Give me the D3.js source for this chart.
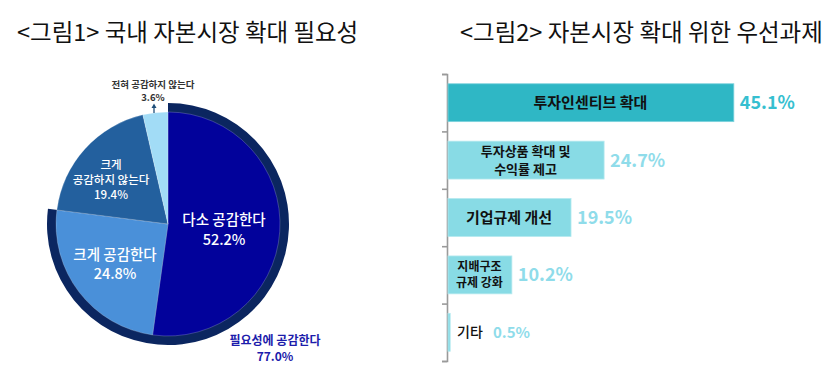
<!DOCTYPE html>
<html><head><meta charset="utf-8">
<script src="https://cdn.jsdelivr.net/npm/d3@7/dist/d3.min.js"></script>
<style>body{margin:0;background:#fff}svg{display:block}text{font-family:"Noto Sans CJK KR","Noto Sans",sans-serif}</style>
</head><body><svg id="c" width="839" height="383"></svg>
<script>
// Figure 1: pie
const pieLabels = ["다소 공감한다", "크게 공감한다", "크게 공감하지 않는다", "전혀 공감하지 않는다"];
const pieValues = [52.2, 24.8, 19.4, 3.6];
const agreeLabel = "필요성에 공감한다";
const agreeValue = 77.0;
// Figure 2: bars
const barCategories = ["투자인센티브 확대", "투자상품 확대 및\n수익률 제고", "기업규제 개선", "지배구조\n규제 강화", "기타"];
const barValues = [45.1, 24.7, 19.5, 10.2, 0.5];
const titles = ["<그림1> 국내 자본시장 확대 필요성", "<그림2> 자본시장 확대 위한 우선과제"];

const svg = d3.select("#c");
svg.append("text").attr("x", 17).attr("y", 41).attr("font-size", 23.5).attr("fill", "#111").text(titles[0]);
svg.append("text").attr("x", 460).attr("y", 41).attr("font-size", 23.5).attr("fill", "#111").text(titles[1]);

// ---- Pie ----
const cx = 168, cy = 224, R = 112, Rring = 121;
const g = svg.append("g").attr("transform", `translate(${cx},${cy})`);
const total = d3.sum(pieValues);
const ringArc = d3.arc().innerRadius(0).outerRadius(Rring).startAngle(0).endAngle(2 * Math.PI * agreeValue / total);
g.append("path").attr("d", ringArc()).attr("fill", "#0b2660");
const pieColors = ["#02029b", "#4a90d9", "#23609e", "#a2dcf6"];
const arcs = d3.pie().sort(null).value(d => d)(pieValues);
const arc = d3.arc().innerRadius(0).outerRadius(R);
g.selectAll("path.s").data(arcs).join("path").attr("class", "s")
  .attr("d", arc).attr("fill", (d, i) => pieColors[i])
  .attr("stroke", "rgba(255,255,255,0.35)").attr("stroke-width", 0.6);

function multi(sel, lines, x, y, lh, size, weight, color, anchor) {
  lines.forEach((l, i) => sel.append("text").attr("x", x).attr("y", y + (Array.isArray(lh) ? d3.sum(lh.slice(0, i)) : i * lh))
    .attr("font-size", size).attr("font-weight", weight).attr("fill", color)
    .attr("text-anchor", anchor || "middle").text(l));
}
const pct = v => v.toFixed(1) + "%";
multi(svg, [pieLabels[0], pct(pieValues[0])], 224, 225, 20, 14.5, 500, "#fff");
multi(svg, [pieLabels[1], pct(pieValues[1])], 115, 260, 19, 14.5, 500, "#fff");
multi(svg, ["크게", "공감하지 않는다", pct(pieValues[2])], 111, 169, [15, 15], 11.5, 500, "#fff");
multi(svg, [pieLabels[3], pct(pieValues[3])], 153, 88, 12.5, 9.5, 700, "#333");
multi(svg, [agreeLabel, agreeValue.toFixed(1) + "%"], 275, 345, 16, 12, 700, "#1c1cab");
// arrow for small slice
svg.append("line").attr("x1", 154).attr("x2", 154).attr("y1", 113).attr("y2", 107)
  .attr("stroke", "#1f4e79").attr("stroke-width", 1.3);
svg.append("path").attr("d", "M151.5,108 L154,103.5 L156.5,108 Z").attr("fill", "#1f4e79");

// ---- Bars ----
const x = d3.scaleLinear().domain([0, 50]).range([447, 765]);
const y = d3.scaleBand().domain(barCategories).range([74, 361]).paddingInner(0.34).paddingOuter(0.17);
const yTicks = d3.scaleLinear().domain([0, barCategories.length]).range([74, 361]);
const axis = svg.append("g").attr("transform", "translate(447,0)")
  .call(d3.axisLeft(yTicks).tickValues(d3.range(barCategories.length + 1)).tickFormat("").tickSize(5).tickSizeOuter(5));
axis.selectAll("path,line").attr("stroke", "#9a9a9a").attr("stroke-width", 1.6);

const barCol = (i) => i === 0 ? "#2fb7c5" : "#88dbe5";
const bars = svg.append("g");
barCategories.forEach((c, i) => {
  const y0 = y(c), bw = y.bandwidth(), x1 = x(barValues[i]);
  bars.append("rect").attr("x", x(0) + 1).attr("y", y0).attr("width", Math.max(0, x1 - x(0) - 1)).attr("height", bw)
    .attr("fill", barCol(i)).attr("stroke", i === 0 ? "#7fd3dd" : "#b4e9ef").attr("stroke-width", 0.8);
  const isLast = i === barCategories.length - 1;
  svg.append("text").attr("x", isLast ? 493 : x1 + 6).attr("y", y0 + bw / 2 + (isLast ? 5.5 : 6.5))
    .attr("font-size", isLast ? 15 : 18).attr("font-weight", 700).attr("fill", i === 0 ? "#36bfd0" : "#8fdcea")
    .text(pct(barValues[i]));
});
// inner labels
const mid = i => y(barCategories[i]) + y.bandwidth() / 2;
const cxBar = i => (x(0) + x(barValues[i])) / 2;
multi(svg, barCategories[0].split("\n"), cxBar(0), mid(0) + 5.5, 0, 15, 700, "#111");
multi(svg, barCategories[1].split("\n"), cxBar(1), mid(1) - 4, 17.5, 13, 700, "#111");
multi(svg, barCategories[2].split("\n"), cxBar(2), mid(2) + 5.5, 0, 15, 700, "#111");
multi(svg, barCategories[3].split("\n"), cxBar(3), mid(3) - 4, 16.5, 12, 700, "#111");
svg.append("text").attr("x", 457).attr("y", mid(4) + 5).attr("font-size", 14).attr("font-weight", 500).attr("fill", "#111").text(barCategories[4]);
</script></body></html>
